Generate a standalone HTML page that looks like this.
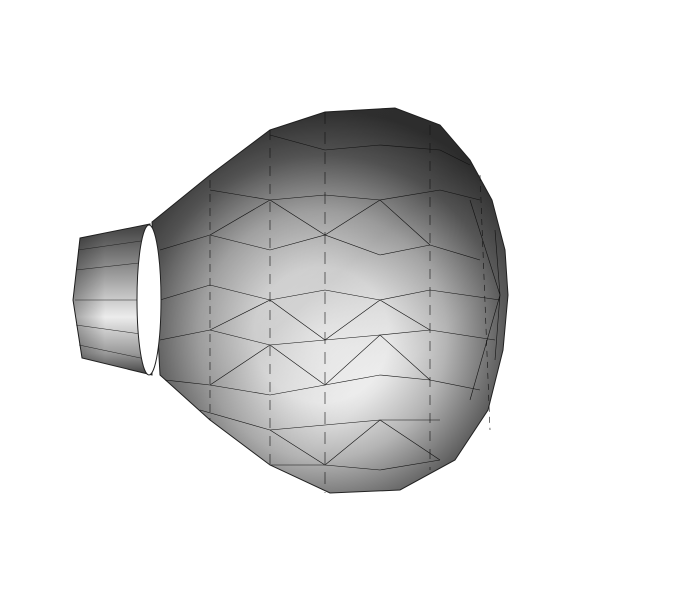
<!DOCTYPE html>
<html>
<head>
<meta charset="utf-8">
<style>
  html,body{margin:0;padding:0;background:#fff;}
  svg{display:block;}
</style>
</head>
<body>
<svg width="700" height="600" viewBox="0 0 700 600">
  <defs>
    <radialGradient id="bodyGrad" cx="325" cy="335" r="225" fx="320" fy="335" gradientUnits="userSpaceOnUse">
      <stop offset="0" stop-color="#ffffff"/>
      <stop offset="0.3" stop-color="#f0f0f0"/>
      <stop offset="0.55" stop-color="#b4b4b4"/>
      <stop offset="0.8" stop-color="#5c5c5c"/>
      <stop offset="1" stop-color="#333"/>
    </radialGradient>
    <linearGradient id="bandGrad" x1="330" y1="130" x2="480" y2="300" gradientUnits="userSpaceOnUse">
      <stop offset="0" stop-color="#000" stop-opacity="0.1"/>
      <stop offset="0.5" stop-color="#000" stop-opacity="0.15"/>
      <stop offset="1" stop-color="#000" stop-opacity="0.0"/>
    </linearGradient>
    <linearGradient id="neckGrad" x1="0" y1="230" x2="0" y2="375" gradientUnits="userSpaceOnUse">
      <stop offset="0" stop-color="#4a4a4a"/>
      <stop offset="0.3" stop-color="#999"/>
      <stop offset="0.6" stop-color="#ececec"/>
      <stop offset="0.85" stop-color="#999"/>
      <stop offset="1" stop-color="#404040"/>
    </linearGradient>
    <linearGradient id="neckSide" x1="75" y1="0" x2="150" y2="0" gradientUnits="userSpaceOnUse">
      <stop offset="0" stop-color="#000" stop-opacity="0.3"/>
      <stop offset="0.4" stop-color="#000" stop-opacity="0"/>
    </linearGradient>
  </defs>

  <g>
    <polygon points="152,222 210,175 270,130 325,112 395,108 440,125 470,160 492,200 505,250 508,295 503,350 488,410 455,460 400,490 330,493 270,465 210,420 160,375"
      fill="url(#bodyGrad)" stroke="#222" stroke-width="1"/>
    <polygon points="152,222 210,175 270,130 325,112 395,108 440,125 470,160 492,200 505,250 508,295 503,350 488,410 455,460 400,490 330,493 270,465 210,420 160,375"
      fill="url(#bandGrad)"/>
    <g stroke="#111" stroke-width="0.6" fill="none">
      <polyline points="160,250 210,235 270,250 325,235 380,255 430,245 480,260"/>
      <polyline points="160,300 210,285 270,300 325,290 380,300 430,290 500,300"/>
      <polyline points="160,340 210,330 270,345 325,340 380,335 430,330 495,340"/>
      <polyline points="165,380 210,385 270,395 325,385 380,375 430,380 480,390"/>
      <polyline points="200,410 270,430 325,425 380,420 440,420"/>
      <polyline points="270,465 325,465 380,470 440,460"/>
      <polyline points="210,190 270,200 325,195 380,200 440,190 480,200"/>
      <polyline points="270,135 325,150 380,145 440,150 470,165"/>
      <polyline points="210,235 270,200 325,235 380,200 430,245"/>
      <polyline points="210,330 270,300 325,340 380,300 430,330"/>
      <polyline points="210,385 270,345 325,385 380,335 430,380"/>
      <polyline points="270,430 325,465 380,420 440,460"/>
      <line x1="210" y1="180" x2="210" y2="420" stroke-dasharray="8,6"/>
      <line x1="270" y1="130" x2="270" y2="465" stroke-dasharray="10,8"/>
      <line x1="325" y1="112" x2="325" y2="493" stroke-dasharray="12,8"/>
      <line x1="430" y1="125" x2="430" y2="470" stroke-dasharray="10,8"/>
      <line x1="480" y1="175" x2="490" y2="430" stroke-dasharray="6,5"/>
      <line x1="500" y1="295" x2="470" y2="200"/>
      <line x1="500" y1="295" x2="470" y2="400"/>
      <line x1="500" y1="295" x2="495" y2="230"/>
      <line x1="500" y1="295" x2="495" y2="360"/>
    </g>
  </g>

  <g>
    <polygon points="80,238 150,224 152,375 82,358 73,300" fill="url(#neckGrad)" stroke="#222" stroke-width="1"/>
    <polygon points="80,238 150,224 152,375 82,358 73,300" fill="url(#neckSide)"/>
    <g stroke="#222" stroke-width="0.5">
      <line x1="78" y1="250" x2="148" y2="240"/>
      <line x1="76" y1="270" x2="148" y2="262"/>
      <line x1="75" y1="300" x2="148" y2="300"/>
      <line x1="76" y1="325" x2="148" y2="335"/>
      <line x1="79" y1="345" x2="150" y2="360"/>
    </g>
    <ellipse cx="149" cy="300" rx="12" ry="75" fill="#fff" stroke="#222" stroke-width="1"/>
  </g>
</svg>
</body>
</html>
